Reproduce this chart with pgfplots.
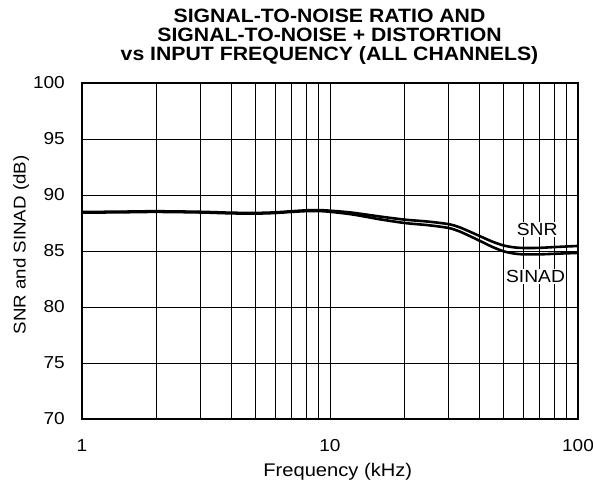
\documentclass[border=0pt]{standalone}
\usepackage{fontspec}
\setmainfont{Liberation Sans}[FakeStretch=1.1]
\usepackage{pgfplots}
\pgfplotsset{compat=1.18}
\begin{document}
\begin{tikzpicture}
\useasboundingbox (-82bp,-66bp) rectangle (511bp,419bp);
\begin{axis}[
  at={(0,0)}, anchor=south west,
  scale only axis, width=496bp, height=336bp,
  xmode=log, log basis x=10,
  xmin=1, xmax=100, ymin=70, ymax=100,
  xtick={1,10,100}, xticklabels={1,10,100},
  minor xtick={2,3,4,5,6,7,8,9,20,30,40,50,60,70,80,90},
  ytick={70,75,80,85,90,95,100},
  /pgf/number format/assume math mode=true,
  grid=both,
  major grid style={black, line width=0.8bp},
  minor grid style={black, line width=0.7bp},
  tick style={draw=none},
  axis line style={line width=2bp},
  ticklabel style={font=\fontsize{17.3bp}{20bp}\selectfont, inner sep=0pt},
  xticklabel style={anchor=north, yshift=-20bp},
  yticklabel style={anchor=east, xshift=-17bp},
  clip=true,
]
\addplot[black, line width=2.6bp, smooth] coordinates {
(1,88.48) (1.5,88.52) (2,88.55) (3,88.5) (4,88.42) (5,88.4) (6,88.45) (7,88.55) (8,88.63) (9,88.65) (10,88.6) (12,88.45) (14,88.25) (16,88.07) (20,87.8) (25,87.62) (30,87.4) (33,87.15) (36,86.8) (40,86.35) (45,85.85) (50,85.5) (55,85.33) (60,85.27) (70,85.28) (80,85.35) (100,85.45)
};
\addplot[black, line width=2.6bp, smooth] coordinates {
(1,88.42) (1.5,88.46) (2,88.49) (3,88.44) (4,88.36) (5,88.34) (6,88.39) (7,88.49) (8,88.56) (9,88.57) (10,88.5) (12,88.3) (14,88.05) (16,87.82) (20,87.5) (25,87.3) (30,87.06) (33,86.78) (36,86.41) (40,85.93) (45,85.38) (50,84.98) (55,84.78) (60,84.7) (70,84.7) (80,84.75) (100,84.83)
};
\node[fill=white, inner sep=1.5bp, font=\fontsize{17.5bp}{20bp}\selectfont] at (axis cs:68.4,86.9) {SNR};
\node[fill=white, inner sep=1.5bp, font=\fontsize{17.5bp}{20bp}\selectfont] at (axis cs:67.4,82.7) {SINAD};
\end{axis}
\node[anchor=base, font=\bfseries\fontsize{19.3bp}{20bp}\selectfont] at (247.5bp,396.3bp) {SIGNAL-TO-NOISE RATIO AND};
\node[anchor=base, font=\bfseries\fontsize{19.3bp}{20bp}\selectfont] at (247.5bp,377.3bp) {SIGNAL-TO-NOISE + DISTORTION};
\node[anchor=base, font=\bfseries\fontsize{19.3bp}{20bp}\selectfont] at (247.5bp,358.3bp) {vs INPUT FREQUENCY (ALL CHANNELS)};
\node[anchor=base, font=\fontsize{18.3bp}{20bp}\selectfont] at (255.8bp,-57.7bp) {Frequency (kHz)};
\node[anchor=base, rotate=90, font=\fontsize{17bp}{20bp}\selectfont] at (-56.3bp,174bp) {SNR and SINAD (dB)};
\end{tikzpicture}
\end{document}
